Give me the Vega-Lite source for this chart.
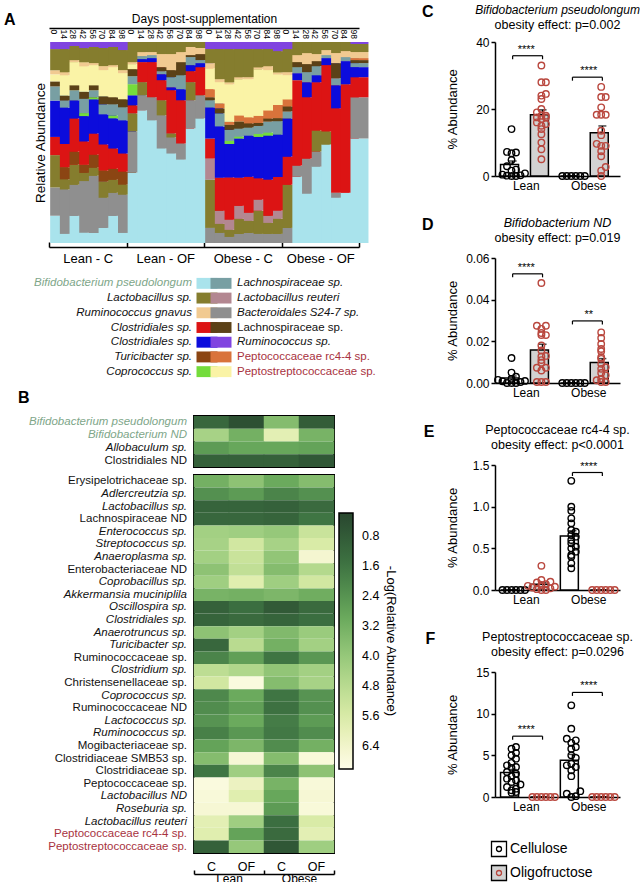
{
"$schema":"https://vega.github.io/schema/vega-lite/v6.json",
"background":"white",
"padding":{"left":3,"top":3,"right":0,"bottom":0},
"config":{
 "font":"Liberation Sans",
 "view":{"stroke":null},
 "axis":{"labelFont":"Liberation Sans","titleFont":"Liberation Sans","labelColor":"black","titleColor":"black","titleFontWeight":"normal","grid":false},
 "title":{"font":"Liberation Sans","subtitleFont":"Liberation Sans","color":"black","subtitleColor":"black"},
 "legend":{"labelFont":"Liberation Sans","titleFont":"Liberation Sans","labelColor":"black","titleColor":"black","titleFontWeight":"normal"},
 "text":{"font":"Liberation Sans","color":"black"}
},
"datasets":{
 "bars":[
  {"i":0,"s01":13.5,"s02":14,"s03":16,"s06":9,"s07":18,"s09":7,"s10":2.5,"s12":3.5,"s13":2,"s14":10.5,"s15":3.5},
  {"i":1,"s01":4.5,"s02":22,"s03":5,"s05":6,"s06":11.5,"s07":18,"s09":3.5,"s10":2.5,"s12":10,"s13":1.5,"s14":11.5,"s15":3.5},
  {"i":2,"s01":13.5,"s02":15.5,"s03":10,"s05":6.5,"s06":16.5,"s07":9,"s09":5,"s10":2.5,"s12":11.5,"s13":1,"s14":7,"s15":2},
  {"i":3,"s01":5,"s02":25.5,"s03":4,"s05":4,"s06":11.5,"s07":12.5,"s08":1.5,"s09":7,"s10":3.5,"s12":12.5,"s13":2,"s14":7,"s15":3},
  {"i":4,"s01":5,"s02":28.5,"s03":4,"s05":6.5,"s06":10.5,"s07":17,"s08":1,"s09":3.5,"s10":2.5,"s12":10,"s13":1,"s14":8,"s15":2.5},
  {"i":5,"s01":7.5,"s02":15,"s03":8,"s05":5.5,"s06":13,"s07":15,"s09":5,"s10":4,"s12":13,"s13":2,"s14":9,"s15":3},
  {"i":6,"s01":13.5,"s02":11.5,"s03":6.5,"s05":5.5,"s06":10,"s07":15,"s08":1.5,"s09":5.5,"s10":3.5,"s12":15,"s13":1,"s14":9,"s15":2.5},
  {"i":7,"s01":5,"s02":19,"s03":5,"s05":6.5,"s06":9,"s07":16.5,"s09":6.5,"s10":4,"s12":13,"s13":1.5,"s14":10,"s15":4},
  {"i":8,"s01":35,"s02":20.5,"s03":9,"s06":4,"s07":5,"s08":5.5,"s09":4,"s10":3.5,"s12":2.5,"s13":1,"s14":10},
  {"i":9,"s01":66,"s02":7.5,"s03":6.5,"s06":10,"s07":1.5,"s09":1.5,"s13":2,"s14":5},
  {"i":10,"s01":61,"s02":11.5,"s06":17.5,"s07":2,"s09":1.5,"s13":1.5,"s14":5},
  {"i":11,"s01":47,"s02":16.5,"s03":7.5,"s06":10,"s07":3,"s09":1.5,"s10":2,"s13":6.5,"s14":6},
  {"i":12,"s01":44.5,"s02":8,"s03":2,"s06":21.5,"s07":1.5,"s09":5,"s10":3.5,"s13":8,"s14":6},
  {"i":13,"s01":41.5,"s02":8,"s06":21.5,"s07":5.5,"s09":7,"s10":6.5,"s13":5,"s14":5},
  {"i":14,"s01":57,"s02":14,"s03":9,"s06":5.5,"s07":3,"s09":4,"s10":1,"s13":4,"s14":2.5},
  {"i":15,"s01":62,"s02":11.5,"s06":14,"s07":2,"s09":1.5,"s10":3,"s13":3,"s14":3},
  {"i":16,"s02":7.5,"s03":24,"s04":10.5,"s06":10,"s07":15.5,"s09":3.5,"s10":1.5,"s11":4,"s12":10.5,"s13":2.5,"s14":7,"s15":3.5},
  {"i":17,"s02":5,"s03":4.5,"s04":6.5,"s06":16.5,"s07":25.5,"s09":6.5,"s10":2.5,"s11":2.5,"s12":10.5,"s13":1.5,"s14":15,"s15":3.5},
  {"i":18,"s02":3,"s03":3.5,"s04":5,"s06":21,"s07":16.5,"s08":1.5,"s09":5.5,"s10":2.5,"s11":1.5,"s12":18.5,"s13":1,"s14":16.5,"s15":3.5},
  {"i":19,"s02":4.5,"s03":7.5,"s04":6.5,"s06":14,"s07":19.5,"s08":1,"s09":4,"s10":3.5,"s11":3,"s12":18,"s13":1,"s14":14,"s15":3.5},
  {"i":20,"s02":5,"s03":6,"s04":4,"s06":18,"s07":20.5,"s09":4,"s10":2,"s11":3,"s12":19,"s13":1,"s14":14,"s15":3.5},
  {"i":21,"s02":4.5,"s03":11.5,"s04":5.5,"s06":10.5,"s07":20.5,"s08":1.5,"s09":4,"s10":1.5,"s11":3.5,"s12":23,"s13":1,"s14":9,"s15":3.5},
  {"i":22,"s02":4.5,"s03":5.5,"s04":3.5,"s06":18,"s07":22,"s08":1.5,"s09":5.5,"s10":1.5,"s11":4,"s12":20,"s13":2,"s14":8.5,"s15":3.5},
  {"i":23,"s02":4.5,"s03":7.5,"s04":4,"s06":16.5,"s07":21,"s09":6.5,"s10":1.5,"s11":6.5,"s12":15,"s13":1,"s14":10.5,"s15":4.5},
  {"i":24,"s02":7.5,"s03":21.5,"s06":14,"s07":19,"s09":3.5,"s10":2.5,"s11":3.5,"s12":12,"s13":1.5,"s14":11.5,"s15":3.5},
  {"i":25,"s01":33,"s02":5.5,"s06":42.5,"s07":3.5,"s09":3,"s10":2.5,"s13":3.5,"s14":6.5},
  {"i":26,"s01":24.5,"s02":17.5,"s06":30.5,"s07":7.5,"s09":5,"s10":4,"s13":5.5,"s14":5.5},
  {"i":27,"s01":38,"s02":7.5,"s03":10.5,"s06":24,"s07":3.5,"s09":4.5,"s10":2.5,"s13":3.5,"s14":6},
  {"i":28,"s01":49,"s03":6.5,"s06":33,"s07":3.5,"s09":1.5,"s13":2.5,"s14":4},
  {"i":29,"s01":22.5,"s02":2.5,"s06":42,"s07":11.5,"s09":3.5,"s10":7.5,"s13":5,"s14":5.5},
  {"i":30,"s01":25,"s06":54,"s07":11.5,"s09":2,"s13":3,"s14":4.5},
  {"i":31,"s01":52,"s02":20.5,"s06":10,"s07":5,"s09":2,"s10":1.5,"s11":1,"s13":3,"s14":4,"s15":1}
 ],
 "legA":[
  {"t":"Bifidobacterium pseudolongum","c":"L","r":1,"k":"s01"},
  {"t":"Lactobacillus sp.","c":"L","r":2,"k":"s14"},
  {"t":"Ruminococcus gnavus","c":"L","r":3,"k":"s13"},
  {"t":"Clostridiales sp.","c":"L","r":4,"k":"s06"},
  {"t":"Clostridiales sp.","c":"L","r":5,"k":"s07"},
  {"t":"Turicibacter sp.","c":"L","r":6,"k":"s05"},
  {"t":"Coprococcus sp.","c":"L","r":7,"k":"s08"},
  {"t":"Lachnospiraceae sp.","c":"R","r":1,"k":"s09"},
  {"t":"Lactobacillus reuteri","c":"R","r":2,"k":"s04"},
  {"t":"Bacteroidales S24-7 sp.","c":"R","r":3,"k":"s02"},
  {"t":"Lachnospiraceae sp.","c":"R","r":4,"k":"s10"},
  {"t":"Ruminococcus sp.","c":"R","r":5,"k":"s15"},
  {"t":"Peptococcaceae rc4-4 sp.","c":"R","r":6,"k":"s11"},
  {"t":"Peptostreptococcaceae sp.","c":"R","r":7,"k":"s12"}
 ],
 "hmTop":[
  {"t":"Bifidobacterium pseudolongum","LC":1.2,"LOF":0.5,"OC":3.6,"OOF":0.9},
  {"t":"Bifidobacterium ND","LC":4.4,"LOF":3.2,"OC":5.9,"OOF":3.3},
  {"t":"Allobaculum sp.","LC":2.6,"LOF":2.9,"OC":2.9,"OOF":2.8},
  {"t":"Clostridiales ND","LC":1.0,"LOF":1.0,"OC":1.0,"OOF":0.7}
 ],
 "hmBot":[
  {"t":"Erysipelotrichaceae sp.","LC":3.2,"LOF":3.8,"OC":3.0,"OOF":3.6},
  {"t":"Adlercreutzia sp.","LC":2.3,"LOF":2.6,"OC":2.0,"OOF":2.3},
  {"t":"Lactobacillus sp.","LC":1.1,"LOF":1.1,"OC":1.0,"OOF":1.3},
  {"t":"Lachnospiraceae ND","LC":1.2,"LOF":1.2,"OC":1.1,"OOF":1.6},
  {"t":"Enterococcus sp.","LC":4.3,"LOF":4.2,"OC":4.0,"OOF":5.2},
  {"t":"Streptococcus sp.","LC":4.4,"LOF":5.4,"OC":4.4,"OOF":5.6},
  {"t":"Anaeroplasma sp.","LC":4.3,"LOF":5.2,"OC":3.9,"OOF":6.5},
  {"t":"Enterobacteriaceae ND","LC":3.8,"LOF":5.0,"OC":3.6,"OOF":4.7},
  {"t":"Coprobacillus sp.","LC":4.2,"LOF":5.8,"OC":4.2,"OOF":5.4},
  {"t":"Akkermansia muciniplila","LC":3.3,"LOF":3.2,"OC":3.4,"OOF":3.1},
  {"t":"Oscillospira sp.","LC":1.0,"LOF":1.4,"OC":0.8,"OOF":1.3},
  {"t":"Clostridiales sp.","LC":1.1,"LOF":1.3,"OC":1.1,"OOF":1.4},
  {"t":"Anaerotruncus sp.","LC":3.8,"LOF":4.3,"OC":3.5,"OOF":4.1},
  {"t":"Turicibacter sp.","LC":1.2,"LOF":4.8,"OC":3.2,"OOF":4.3},
  {"t":"Ruminococcaceae sp.","LC":2.0,"LOF":2.7,"OC":1.6,"OOF":2.5},
  {"t":"Clostridium sp.","LC":4.9,"LOF":4.6,"OC":3.9,"OOF":4.3},
  {"t":"Christensenellaceae sp.","LC":5.4,"LOF":6.8,"OC":3.6,"OOF":4.4},
  {"t":"Coprococcus sp.","LC":2.1,"LOF":3.0,"OC":1.6,"OOF":2.4},
  {"t":"Ruminococcaceae ND","LC":2.2,"LOF":2.7,"OC":1.5,"OOF":2.3},
  {"t":"Lactococcus sp.","LC":2.4,"LOF":3.0,"OC":1.8,"OOF":2.6},
  {"t":"Ruminococcus sp.","LC":1.9,"LOF":2.5,"OC":1.7,"OOF":2.2},
  {"t":"Mogibacteriaceae sp.","LC":2.8,"LOF":3.4,"OC":2.2,"OOF":3.2},
  {"t":"Clostridiaceae SMB53 sp.","LC":3.6,"LOF":6.6,"OC":3.6,"OOF":6.7},
  {"t":"Clostridiaceae sp.","LC":1.6,"LOF":4.2,"OC":2.0,"OOF":3.8},
  {"t":"Peptococcaceae sp.","LC":6.8,"LOF":6.2,"OC":3.3,"OOF":6.7},
  {"t":"Lactobacillus ND","LC":6.7,"LOF":5.8,"OC":2.9,"OOF":6.6},
  {"t":"Roseburia sp.","LC":6.6,"LOF":6.6,"OC":2.6,"OOF":6.7},
  {"t":"Lactobacillus reuteri","LC":5.9,"LOF":4.2,"OC":1.4,"OOF":5.6},
  {"t":"Peptococcaceae rc4-4 sp.","LC":5.8,"LOF":2.8,"OC":1.3,"OOF":5.9},
  {"t":"Peptostreptococcaceae sp.","LC":1.0,"LOF":4.0,"OC":0.7,"OOF":4.2}
 ],
 "pts":[
  {"p":"C","s":"LC","v":14},{"p":"C","s":"LC","v":7.2},{"p":"C","s":"LC","v":7},{"p":"C","s":"LC","v":6.8},{"p":"C","s":"LC","v":4.8},{"p":"C","s":"LC","v":2.9},{"p":"C","s":"LC","v":1.9},{"p":"C","s":"LC","v":1.6},{"p":"C","s":"LC","v":0.8},{"p":"C","s":"LC","v":0.4},{"p":"C","s":"LC","v":0.2},{"p":"C","s":"LC","v":0.1},{"p":"C","s":"LC","v":0},{"p":"C","s":"LC","v":0},
  {"p":"C","s":"LOF","v":33},{"p":"C","s":"LOF","v":28},{"p":"C","s":"LOF","v":28},{"p":"C","s":"LOF","v":24.5},{"p":"C","s":"LOF","v":24},{"p":"C","s":"LOF","v":23},{"p":"C","s":"LOF","v":20},{"p":"C","s":"LOF","v":19},{"p":"C","s":"LOF","v":18},{"p":"C","s":"LOF","v":18},{"p":"C","s":"LOF","v":17.5},{"p":"C","s":"LOF","v":17.5},{"p":"C","s":"LOF","v":17},{"p":"C","s":"LOF","v":16},{"p":"C","s":"LOF","v":15.5},{"p":"C","s":"LOF","v":15},{"p":"C","s":"LOF","v":14},{"p":"C","s":"LOF","v":12.5},{"p":"C","s":"LOF","v":10},{"p":"C","s":"LOF","v":8},{"p":"C","s":"LOF","v":5},
  {"p":"C","s":"OC","v":0},{"p":"C","s":"OC","v":0},{"p":"C","s":"OC","v":0},{"p":"C","s":"OC","v":0},{"p":"C","s":"OC","v":0},{"p":"C","s":"OC","v":0},
  {"p":"C","s":"OOF","v":26.6},{"p":"C","s":"OOF","v":23.6},{"p":"C","s":"OOF","v":23.6},{"p":"C","s":"OOF","v":20.5},{"p":"C","s":"OOF","v":18.3},{"p":"C","s":"OOF","v":18.3},{"p":"C","s":"OOF","v":18.3},{"p":"C","s":"OOF","v":13.5},{"p":"C","s":"OOF","v":12.2},{"p":"C","s":"OOF","v":9.6},{"p":"C","s":"OOF","v":9},{"p":"C","s":"OOF","v":9},{"p":"C","s":"OOF","v":7.4},{"p":"C","s":"OOF","v":5.9},{"p":"C","s":"OOF","v":2.7},{"p":"C","s":"OOF","v":1.6},{"p":"C","s":"OOF","v":0},
  {"p":"D","s":"LC","v":0.012},{"p":"D","s":"LC","v":0.005},{"p":"D","s":"LC","v":0.003},{"p":"D","s":"LC","v":0.002},{"p":"D","s":"LC","v":0.0015},{"p":"D","s":"LC","v":0.001},{"p":"D","s":"LC","v":0.0008},{"p":"D","s":"LC","v":0.0005},{"p":"D","s":"LC","v":0},{"p":"D","s":"LC","v":0},{"p":"D","s":"LC","v":0},
  {"p":"D","s":"LOF","v":0.048},{"p":"D","s":"LOF","v":0.0275},{"p":"D","s":"LOF","v":0.0275},{"p":"D","s":"LOF","v":0.026},{"p":"D","s":"LOF","v":0.024},{"p":"D","s":"LOF","v":0.023},{"p":"D","s":"LOF","v":0.023},{"p":"D","s":"LOF","v":0.018},{"p":"D","s":"LOF","v":0.0156},{"p":"D","s":"LOF","v":0.0127},{"p":"D","s":"LOF","v":0.013},{"p":"D","s":"LOF","v":0.011},{"p":"D","s":"LOF","v":0.0097},{"p":"D","s":"LOF","v":0.0073},{"p":"D","s":"LOF","v":0.0073},{"p":"D","s":"LOF","v":0.006},{"p":"D","s":"LOF","v":0.0005},{"p":"D","s":"LOF","v":0.0005},{"p":"D","s":"LOF","v":0.0005},
  {"p":"D","s":"OC","v":0},{"p":"D","s":"OC","v":0},{"p":"D","s":"OC","v":0},{"p":"D","s":"OC","v":0},{"p":"D","s":"OC","v":0},{"p":"D","s":"OC","v":0},
  {"p":"D","s":"OOF","v":0.0243},{"p":"D","s":"OOF","v":0.0216},{"p":"D","s":"OOF","v":0.0187},{"p":"D","s":"OOF","v":0.0163},{"p":"D","s":"OOF","v":0.0152},{"p":"D","s":"OOF","v":0.0124},{"p":"D","s":"OOF","v":0.0116},{"p":"D","s":"OOF","v":0.0092},{"p":"D","s":"OOF","v":0.0076},{"p":"D","s":"OOF","v":0.0068},{"p":"D","s":"OOF","v":0.0048},{"p":"D","s":"OOF","v":0.0037},{"p":"D","s":"OOF","v":0.002},{"p":"D","s":"OOF","v":0.0013},{"p":"D","s":"OOF","v":0.0005},{"p":"D","s":"OOF","v":0.0005},
  {"p":"E","s":"LC","v":0},{"p":"E","s":"LC","v":0},{"p":"E","s":"LC","v":0},{"p":"E","s":"LC","v":0},{"p":"E","s":"LC","v":0},{"p":"E","s":"LC","v":0},
  {"p":"E","s":"LOF","v":0.29},{"p":"E","s":"LOF","v":0.12},{"p":"E","s":"LOF","v":0.1},{"p":"E","s":"LOF","v":0.09},{"p":"E","s":"LOF","v":0.07},{"p":"E","s":"LOF","v":0.06},{"p":"E","s":"LOF","v":0.05},{"p":"E","s":"LOF","v":0.04},{"p":"E","s":"LOF","v":0.03},{"p":"E","s":"LOF","v":0.02},{"p":"E","s":"LOF","v":0.01},{"p":"E","s":"LOF","v":0},{"p":"E","s":"LOF","v":0},
  {"p":"E","s":"OC","v":1.31},{"p":"E","s":"OC","v":1.0},{"p":"E","s":"OC","v":0.95},{"p":"E","s":"OC","v":0.86},{"p":"E","s":"OC","v":0.8},{"p":"E","s":"OC","v":0.72},{"p":"E","s":"OC","v":0.7},{"p":"E","s":"OC","v":0.66},{"p":"E","s":"OC","v":0.64},{"p":"E","s":"OC","v":0.6},{"p":"E","s":"OC","v":0.56},{"p":"E","s":"OC","v":0.52},{"p":"E","s":"OC","v":0.5},{"p":"E","s":"OC","v":0.46},{"p":"E","s":"OC","v":0.42},{"p":"E","s":"OC","v":0.4},{"p":"E","s":"OC","v":0.32},{"p":"E","s":"OC","v":0.26},
  {"p":"E","s":"OOF","v":0},{"p":"E","s":"OOF","v":0},{"p":"E","s":"OOF","v":0},{"p":"E","s":"OOF","v":0},{"p":"E","s":"OOF","v":0},{"p":"E","s":"OOF","v":0},
  {"p":"F","s":"LC","v":6},{"p":"F","s":"LC","v":5.8},{"p":"F","s":"LC","v":5.3},{"p":"F","s":"LC","v":5},{"p":"F","s":"LC","v":4.6},{"p":"F","s":"LC","v":4.1},{"p":"F","s":"LC","v":3.8},{"p":"F","s":"LC","v":3.6},{"p":"F","s":"LC","v":3.5},{"p":"F","s":"LC","v":3},{"p":"F","s":"LC","v":2.8},{"p":"F","s":"LC","v":2.5},{"p":"F","s":"LC","v":2.2},{"p":"F","s":"LC","v":2},{"p":"F","s":"LC","v":1.8},{"p":"F","s":"LC","v":1.5},{"p":"F","s":"LC","v":1.2},{"p":"F","s":"LC","v":1},{"p":"F","s":"LC","v":0.8},{"p":"F","s":"LC","v":0.6},{"p":"F","s":"LC","v":0.5},
  {"p":"F","s":"LOF","v":0},{"p":"F","s":"LOF","v":0},{"p":"F","s":"LOF","v":0},{"p":"F","s":"LOF","v":0},{"p":"F","s":"LOF","v":0},{"p":"F","s":"LOF","v":0},
  {"p":"F","s":"OC","v":11},{"p":"F","s":"OC","v":8.2},{"p":"F","s":"OC","v":7},{"p":"F","s":"OC","v":6.8},{"p":"F","s":"OC","v":6.5},{"p":"F","s":"OC","v":6},{"p":"F","s":"OC","v":5.8},{"p":"F","s":"OC","v":5},{"p":"F","s":"OC","v":4.7},{"p":"F","s":"OC","v":4},{"p":"F","s":"OC","v":3.8},{"p":"F","s":"OC","v":3.6},{"p":"F","s":"OC","v":3.2},{"p":"F","s":"OC","v":2.5},{"p":"F","s":"OC","v":0.7},{"p":"F","s":"OC","v":0.4},{"p":"F","s":"OC","v":0.1},{"p":"F","s":"OC","v":0},
  {"p":"F","s":"OOF","v":0},{"p":"F","s":"OOF","v":0},{"p":"F","s":"OOF","v":0},{"p":"F","s":"OOF","v":0},{"p":"F","s":"OOF","v":0},{"p":"F","s":"OOF","v":0}
 ],
 "sig":[
  {"p":"C","g":"Lean","s1":"LC","s2":"LOF","y":35.9,"lab":"****"},
  {"p":"C","g":"Obese","s1":"OC","s2":"OOF","y":29.5,"lab":"****"},
  {"p":"D","g":"Lean","s1":"LC","s2":"LOF","y":0.0524,"lab":"****"},
  {"p":"D","g":"Obese","s1":"OC","s2":"OOF","y":0.0298,"lab":"**"},
  {"p":"E","g":"Obese","s1":"OC","s2":"OOF","y":1.41,"lab":"****"},
  {"p":"F","g":"Lean","s1":"LC","s2":"LOF","y":7.3,"lab":"****"},
  {"p":"F","g":"Obese","s1":"OC","s2":"OOF","y":12.55,"lab":"****"}
 ]
},
"hconcat":[
 {"vconcat":[
  {"width":310,"height":201,
   "title":{"text":"A","orient":"left","angle":0,"anchor":"end","frame":"bounds","baseline":"top","align":"right","fontSize":16,"fontWeight":"bold","offset":6},
   "layer":[
    {"data":{"name":"bars"},
     "transform":[{"fold":["s01","s02","s03","s04","s05","s06","s07","s08","s09","s10","s11","s12","s13","s14","s15"],"as":["k","v"]},{"filter":"datum.v > 0"}],
     "mark":{"type":"bar"},
     "encoding":{
      "x":{"field":"i","type":"ordinal","scale":{"type":"band","paddingInner":0.24,"paddingOuter":0.12},
           "axis":{"orient":"top","title":"Days post-supplementation","titleFontSize":12,"titlePadding":3,"labelExpr":"['0','14','28','42','56','70','84','98'][datum.value % 8]","labelAngle":90,"labelAlign":"left","labelBaseline":"middle","labelFontSize":8.5,"labelPadding":-1,"ticks":false,"domain":true,"domainColor":"black","domainWidth":1.5,"offset":14}},
      "y":{"field":"v","type":"quantitative","stack":"normalize","axis":{"title":"Relative Abundance","labels":false,"ticks":false,"domain":false,"titleFontSize":13.5,"titlePadding":2,"minExtent":0}},
      "color":{"field":"k","type":"nominal","legend":null,"scale":{"domain":["s01","s02","s03","s04","s05","s06","s07","s08","s09","s10","s11","s12","s13","s14","s15"],"range":["#a9e3ec","#8f8f8f","#857d2e","#b38791","#8b4513","#dc1414","#0c0cdc","#74dc3c","#789fa3","#5b4117","#d9733b","#faf3a6","#f1ca91","#857d2e","#8044e0"]}},
      "order":{"field":"k","sort":"ascending"}
     }},
    {"data":{"values":[{"g":"Lean - C"},{"g":"Lean - OF"},{"g":"Obese - C"},{"g":"Obese - OF"}]},
     "mark":{"type":"text","text":""},
     "encoding":{"x":{"field":"g","type":"nominal","sort":null,"scale":{"type":"band","paddingInner":0,"paddingOuter":0},
       "axis":{"orient":"bottom","title":null,"labelAngle":0,"labelFontSize":13,"domainColor":"black","domainWidth":1.5,"tickColor":"black","tickWidth":1.5,"tickSize":-5,"tickBand":"extent","labelPadding":10,"offset":4}}}}
   ],
   "resolve":{"scale":{"x":"independent"},"axis":{"x":"independent"}}
  },
  {"width":340,"height":103,
   "data":{"name":"legA"},
   "encoding":{
    "x":{"field":"c","type":"nominal","scale":{"type":"point","domain":["L","R"],"range":[151,179]},"axis":null},
    "y":{"field":"r","type":"ordinal","scale":{"type":"point","padding":0.5},"axis":null}
   },
   "layer":[
    {"mark":{"type":"point","shape":"M-1,-0.52H1V0.52H-1Z","size":441,"filled":true,"opacity":1,"strokeWidth":0},
     "encoding":{"color":{"field":"k","type":"nominal","legend":null,"scale":{"domain":["s01","s02","s03","s04","s05","s06","s07","s08","s09","s10","s11","s12","s13","s14","s15"],"range":["#a9e3ec","#8f8f8f","#857d2e","#b38791","#8b4513","#dc1414","#0c0cdc","#74dc3c","#789fa3","#5b4117","#d9733b","#faf3a6","#f1ca91","#857d2e","#8044e0"]}}}},
    {"transform":[{"filter":"datum.c == 'L'"}],
     "mark":{"type":"text","align":"right","dx":-15,"fontSize":11.5,"fontStyle":"italic"},
     "encoding":{"text":{"field":"t"},"color":{"condition":{"test":"datum.k == 's01'","value":"#7ea689"},"value":"#111111"}}},
    {"transform":[{"filter":"datum.c == 'R' && indexof(['s10','s11','s12'], datum.k) < 0"}],
     "mark":{"type":"text","align":"left","dx":16,"fontSize":11.5,"fontStyle":"italic","color":"#111111"},
     "encoding":{"text":{"field":"t"}}},
    {"transform":[{"filter":"indexof(['s10','s11','s12'], datum.k) >= 0"}],
     "mark":{"type":"text","align":"left","dx":16,"fontSize":11.5},
     "encoding":{"text":{"field":"t"},"color":{"condition":{"test":"datum.k != 's10'","value":"#a8323e"},"value":"#111111"}}}
   ]
  },
  {"title":{"text":"B","anchor":"start","frame":"bounds","fontSize":16,"fontWeight":"bold","dx":-11,"offset":9},
   "concat":[
    {"width":138,"height":51,"data":{"name":"hmTop"},
     "encoding":{"y":{"field":"t","type":"nominal","axis":null,"scale":{"type":"band","paddingInner":0,"paddingOuter":0,"domain":["Bifidobacterium pseudolongum","Bifidobacterium ND","Allobaculum sp.","Clostridiales ND"]}},"x":{"value":"width"}},
     "layer":[
      {"transform":[{"filter":"datum.t != 'Clostridiales ND'"}],"mark":{"type":"text","align":"right","baseline":"middle","fontSize":11.5,"fontStyle":"italic"},
       "encoding":{"text":{"field":"t"},"color":{"condition":{"test":"indexof(['Bifidobacterium pseudolongum','Bifidobacterium ND'], datum.t) >= 0","value":"#7ea689"},"value":"#111111"}}},
      {"transform":[{"filter":"datum.t == 'Clostridiales ND'"}],"mark":{"type":"text","align":"right","baseline":"middle","fontSize":11.5,"color":"#111111"},
       "encoding":{"text":{"field":"t"}}}
     ]},
    {"width":140,"height":51,"view":{"stroke":"black","strokeWidth":2},
     "data":{"name":"hmTop"},
     "transform":[{"fold":["LC","LOF","OC","OOF"],"as":["c","v"]}],
     "mark":{"type":"rect","width":35.5,"height":{"band":1}},
     "encoding":{
      "x":{"field":"c","type":"nominal","sort":null,"axis":null,"scale":{"type":"band","paddingInner":0,"paddingOuter":0}},
      "y":{"field":"t","type":"nominal","sort":null,"axis":null,"scale":{"type":"band","paddingInner":0,"paddingOuter":0}},
      "color":{"field":"v","type":"quantitative","legend":null,"scale":{"type":"linear","domain":[7.0,5.64,4.28,2.92,1.56,0.2],"range":["#fefde8","#dbeca8","#a2d083","#68a85b","#3e7342","#29472e"]}}
     }},
    {"width":138,"height":378,"data":{"name":"hmBot"},
     "encoding":{"y":{"field":"t","type":"nominal","axis":null,"scale":{"type":"band","paddingInner":0,"paddingOuter":0,"domain":["Erysipelotrichaceae sp.","Adlercreutzia sp.","Lactobacillus sp.","Lachnospiraceae ND","Enterococcus sp.","Streptococcus sp.","Anaeroplasma sp.","Enterobacteriaceae ND","Coprobacillus sp.","Akkermansia muciniplila","Oscillospira sp.","Clostridiales sp.","Anaerotruncus sp.","Turicibacter sp.","Ruminococcaceae sp.","Clostridium sp.","Christensenellaceae sp.","Coprococcus sp.","Ruminococcaceae ND","Lactococcus sp.","Ruminococcus sp.","Mogibacteriaceae sp.","Clostridiaceae SMB53 sp.","Clostridiaceae sp.","Peptococcaceae sp.","Lactobacillus ND","Roseburia sp.","Lactobacillus reuteri","Peptococcaceae rc4-4 sp.","Peptostreptococcaceae sp."]}},"x":{"value":"width"}},
     "layer":[
      {"transform":[{"filter":"indexof(['Erysipelotrichaceae sp.','Lachnospiraceae ND','Enterobacteriaceae ND','Ruminococcaceae sp.','Christensenellaceae sp.','Ruminococcaceae ND','Mogibacteriaceae sp.','Clostridiaceae SMB53 sp.','Clostridiaceae sp.','Peptococcaceae sp.','Peptococcaceae rc4-4 sp.','Peptostreptococcaceae sp.'], datum.t) < 0"}],
       "mark":{"type":"text","align":"right","baseline":"middle","fontSize":11.5,"fontStyle":"italic","color":"#111111"},
       "encoding":{"text":{"field":"t"}}},
      {"transform":[{"filter":"indexof(['Erysipelotrichaceae sp.','Lachnospiraceae ND','Enterobacteriaceae ND','Ruminococcaceae sp.','Christensenellaceae sp.','Ruminococcaceae ND','Mogibacteriaceae sp.','Clostridiaceae SMB53 sp.','Clostridiaceae sp.','Peptococcaceae sp.','Peptococcaceae rc4-4 sp.','Peptostreptococcaceae sp.'], datum.t) >= 0"}],
       "mark":{"type":"text","align":"right","baseline":"middle","fontSize":11.5},
       "encoding":{"text":{"field":"t"},"color":{"condition":{"test":"indexof(['Peptococcaceae rc4-4 sp.','Peptostreptococcaceae sp.'], datum.t) >= 0","value":"#a8323e"},"value":"#111111"}}}
     ]},
    {"width":140,"height":378,"view":{"stroke":"black","strokeWidth":2},
     "layer":[
      {"data":{"name":"hmBot"},
       "transform":[{"fold":["LC","LOF","OC","OOF"],"as":["c","v"]}],
       "mark":{"type":"rect","width":35.5,"height":{"band":1}},
       "encoding":{
        "x":{"field":"c","type":"nominal","sort":null,"scale":{"type":"band","paddingInner":0,"paddingOuter":0},"axis":{"orient":"bottom","title":null,"labelExpr":"datum.value == 'LC' || datum.value == 'OC' ? 'C' : 'OF'","labelAngle":0,"ticks":false,"domain":false,"labelFontSize":12.5,"labelPadding":7}},
        "y":{"field":"t","type":"nominal","sort":null,"axis":null,"scale":{"type":"band","paddingInner":0,"paddingOuter":0}},
        "color":{"field":"v","type":"quantitative","scale":{"type":"linear","domain":[7.0,5.64,4.28,2.92,1.56,0.2],"range":["#fefde8","#dbeca8","#a2d083","#68a85b","#3e7342","#29472e"]},
          "legend":{"orient":"none","legendX":145,"legendY":38,"direction":"vertical","gradientLength":256,"gradientThickness":14,"gradientStrokeColor":"black","gradientStrokeWidth":1.5,"values":[0.8,1.6,2.4,3.2,4,4.8,5.6,6.4],"format":".1f","labelFontSize":12.5,"labelOffset":9,"title":"-Log(Relative Abundance)","titleOrient":"right","titleAnchor":"middle","titleFontSize":13,"titlePadding":5}}
       }},
      {"data":{"values":[{"g":"Lean"},{"g":"Obese"}]},
       "mark":{"type":"text","text":""},
       "encoding":{"x":{"field":"g","type":"nominal","scale":{"type":"band","paddingInner":0,"paddingOuter":0},
         "axis":{"orient":"bottom","title":null,"labelAngle":0,"labelFontSize":12,"domainColor":"black","domainWidth":1.5,"tickColor":"black","tickWidth":1.5,"tickSize":-4,"tickBand":"extent","labelPadding":3,"offset":21}}}}
     ],
     "resolve":{"scale":{"x":"independent"},"axis":{"x":"independent"}}
    }
   ],
   "columns":2,
   "spacing":{"row":6,"column":5},
   "resolve":{"scale":{"color":"independent","x":"independent","y":"independent"}}
  }
 ],
 "spacing":11,
 "resolve":{"scale":{"color":"independent"}}
 },
 {"vconcat":[
  {"title":{"text":"C","orient":"left","angle":0,"anchor":"end","frame":"bounds","baseline":"top","align":"right","fontSize":16,"fontWeight":"bold","offset":1},
   "vconcat":[{"width":125,"height":134,
    "title":{"text":"Bifidobacterium pseudolongum","subtitle":"obesity effect: p=0.002","fontStyle":"italic","subtitleFontStyle":"normal","fontWeight":"normal","fontSize":12,"subtitleFontSize":12.5,"subtitlePadding":2,"offset":4,"anchor":"middle"},
    "layer":[
     {"layer":[
      {"data":{"name":"pts"},"transform":[{"filter":"datum.p == 'C'"}],
       "mark":{"type":"errorbar","extent":"stderr","color":"black","thickness":1.5,"ticks":{"size":8}},
       "encoding":{"x":{"field":"s","type":"nominal","scale":{"type":"band","paddingInner":0.12,"paddingOuter":0.15},"axis":null},
        "y":{"field":"v","type":"quantitative","scale":{"domain":[0,40],"nice":false},"axis":{"title":"% Abundance","values":[0,10,20,30,40],"titleFontSize":13,"labelFontSize":12,"tickSize":4,"tickWidth":1.5,"tickColor":"black","domainColor":"black","domainWidth":1.5,"minExtent":32,"titlePadding":4,"labelPadding":2}}}},
      {"data":{"name":"pts"},"transform":[{"filter":"datum.p == 'C'"}],
       "mark":{"type":"bar","stroke":"black","strokeWidth":1.5,"width":{"band":0.92}},
       "encoding":{"x":{"field":"s","type":"nominal","axis":null},"y":{"aggregate":"mean","field":"v","type":"quantitative"},
        "fill":{"condition":{"test":"datum.s == 'LOF' || datum.s == 'OOF'","value":"#d2d2d2"},"value":"white"}}},
      {"data":{"name":"pts"},"transform":[{"filter":"datum.p == 'C'"},{"bin":{"step":1.5},"field":"v","as":"vb"},{"window":[{"op":"row_number","as":"rk"}],"groupby":["s","vb"],"sort":[{"field":"v"}]}],
       "mark":{"type":"point","filled":false,"size":42,"strokeWidth":1.4,"opacity":1},
       "encoding":{"x":{"field":"s","type":"nominal","axis":null},"xOffset":{"field":"rk","type":"nominal","scale":{"type":"point","domain":[7,5,3,1,2,4,6],"range":[-1.5,25.5],"padding":0}},
        "y":{"field":"v","type":"quantitative"},
        "stroke":{"condition":{"test":"datum.s == 'LOF' || datum.s == 'OOF'","value":"#b9473e"},"value":"black"}}},
      {"data":{"name":"sig"},"transform":[{"filter":"datum.p == 'C'"}],"mark":{"type":"rule","color":"black","strokeWidth":1.2},
       "encoding":{"x":{"field":"s1","type":"nominal","axis":null},"x2":{"field":"s2"},"y":{"field":"y","type":"quantitative"}}},
      {"data":{"name":"sig"},"transform":[{"filter":"datum.p == 'C'"}],"mark":{"type":"point","shape":"M0,0L0,1","size":49,"filled":false,"color":"black","strokeWidth":1.2,"opacity":1},
       "encoding":{"x":{"field":"s1","type":"nominal","axis":null},"y":{"field":"y","type":"quantitative"}}},
      {"data":{"name":"sig"},"transform":[{"filter":"datum.p == 'C'"}],"mark":{"type":"point","shape":"M0,0L0,1","size":49,"filled":false,"color":"black","strokeWidth":1.2,"opacity":1},
       "encoding":{"x":{"field":"s2","type":"nominal","axis":null},"y":{"field":"y","type":"quantitative"}}}
     ]},
     {"layer":[
      {"data":{"values":[{"g":"Lean"},{"g":"Obese"}]},"mark":{"type":"text","text":""},
       "encoding":{"x":{"field":"g","type":"nominal","scale":{"type":"band","paddingInner":0,"paddingOuter":0},"axis":{"orient":"bottom","title":null,"labelAngle":0,"labelFontSize":12,"ticks":false,"domainColor":"black","domainWidth":1.5,"labelPadding":4}}}},
      {"data":{"name":"sig"},"transform":[{"filter":"datum.p == 'C'"}],"mark":{"type":"text","fontSize":11,"dy":-1,"baseline":"bottom"},
       "encoding":{"x":{"field":"g","type":"nominal"},"y":{"field":"y","type":"quantitative"},"text":{"field":"lab"}}}
     ]}
    ],
    "resolve":{"scale":{"x":"independent"},"axis":{"x":"independent"}}
   }]
  },
  {"title":{"text":"D","orient":"left","angle":0,"anchor":"end","frame":"bounds","baseline":"top","align":"right","fontSize":16,"fontWeight":"bold","offset":1},
   "vconcat":[{"width":125,"height":125,
    "title":{"text":"Bifidobacterium ND","subtitle":"obesity effect: p=0.019","fontStyle":"italic","subtitleFontStyle":"normal","fontWeight":"normal","fontSize":12.5,"subtitleFontSize":12.5,"subtitlePadding":2,"offset":8,"anchor":"middle"},
    "layer":[
     {"layer":[
      {"data":{"name":"pts"},"transform":[{"filter":"datum.p == 'D'"}],
       "mark":{"type":"errorbar","extent":"stderr","color":"black","thickness":1.5,"ticks":{"size":8}},
       "encoding":{"x":{"field":"s","type":"nominal","scale":{"type":"band","paddingInner":0.12,"paddingOuter":0.15},"axis":null},
        "y":{"field":"v","type":"quantitative","scale":{"domain":[0,0.06],"nice":false},"axis":{"title":"% Abundance","values":[0,0.02,0.04,0.06],"format":".2f","titleFontSize":13,"labelFontSize":12,"tickSize":4,"tickWidth":1.5,"tickColor":"black","domainColor":"black","domainWidth":1.5,"minExtent":32,"titlePadding":4,"labelPadding":2}}}},
      {"data":{"name":"pts"},"transform":[{"filter":"datum.p == 'D'"}],
       "mark":{"type":"bar","stroke":"black","strokeWidth":1.5,"width":{"band":0.92}},
       "encoding":{"x":{"field":"s","type":"nominal","axis":null},"y":{"aggregate":"mean","field":"v","type":"quantitative"},
        "fill":{"condition":{"test":"datum.s == 'LOF' || datum.s == 'OOF'","value":"#d2d2d2"},"value":"white"}}},
      {"data":{"name":"pts"},"transform":[{"filter":"datum.p == 'D'"},{"bin":{"step":0.002},"field":"v","as":"vb"},{"window":[{"op":"row_number","as":"rk"}],"groupby":["s","vb"],"sort":[{"field":"v"}]}],
       "mark":{"type":"point","filled":false,"size":42,"strokeWidth":1.4,"opacity":1},
       "encoding":{"x":{"field":"s","type":"nominal","axis":null},"xOffset":{"field":"rk","type":"nominal","scale":{"type":"point","domain":[7,5,3,1,2,4,6],"range":[-1.5,25.5],"padding":0}},
        "y":{"field":"v","type":"quantitative"},
        "stroke":{"condition":{"test":"datum.s == 'LOF' || datum.s == 'OOF'","value":"#b9473e"},"value":"black"}}},
      {"data":{"name":"sig"},"transform":[{"filter":"datum.p == 'D'"}],"mark":{"type":"rule","color":"black","strokeWidth":1.2},
       "encoding":{"x":{"field":"s1","type":"nominal","axis":null},"x2":{"field":"s2"},"y":{"field":"y","type":"quantitative"}}},
      {"data":{"name":"sig"},"transform":[{"filter":"datum.p == 'D'"}],"mark":{"type":"point","shape":"M0,0L0,1","size":49,"filled":false,"color":"black","strokeWidth":1.2,"opacity":1},
       "encoding":{"x":{"field":"s1","type":"nominal","axis":null},"y":{"field":"y","type":"quantitative"}}},
      {"data":{"name":"sig"},"transform":[{"filter":"datum.p == 'D'"}],"mark":{"type":"point","shape":"M0,0L0,1","size":49,"filled":false,"color":"black","strokeWidth":1.2,"opacity":1},
       "encoding":{"x":{"field":"s2","type":"nominal","axis":null},"y":{"field":"y","type":"quantitative"}}}
     ]},
     {"layer":[
      {"data":{"values":[{"g":"Lean"},{"g":"Obese"}]},"mark":{"type":"text","text":""},
       "encoding":{"x":{"field":"g","type":"nominal","scale":{"type":"band","paddingInner":0,"paddingOuter":0},"axis":{"orient":"bottom","title":null,"labelAngle":0,"labelFontSize":12,"ticks":false,"domainColor":"black","domainWidth":1.5,"labelPadding":4}}}},
      {"data":{"name":"sig"},"transform":[{"filter":"datum.p == 'D'"}],"mark":{"type":"text","fontSize":11,"dy":-1,"baseline":"bottom"},
       "encoding":{"x":{"field":"g","type":"nominal"},"y":{"field":"y","type":"quantitative"},"text":{"field":"lab"}}}
     ]}
    ],
    "resolve":{"scale":{"x":"independent"},"axis":{"x":"independent"}}
   }]
  },
  {"title":{"text":"E","orient":"left","angle":0,"anchor":"end","frame":"bounds","baseline":"top","align":"right","fontSize":16,"fontWeight":"bold","offset":1},
   "vconcat":[{"width":125,"height":125,
    "title":{"text":"Peptococcaceae rc4-4 sp.","subtitle":"obesity effect: p<0.0001","fontStyle":"normal","subtitleFontStyle":"normal","fontWeight":"normal","fontSize":12.5,"subtitleFontSize":12.5,"subtitlePadding":2,"offset":8,"anchor":"middle"},
    "layer":[
     {"layer":[
      {"data":{"name":"pts"},"transform":[{"filter":"datum.p == 'E'"}],
       "mark":{"type":"errorbar","extent":"stderr","color":"black","thickness":1.5,"ticks":{"size":8}},
       "encoding":{"x":{"field":"s","type":"nominal","scale":{"type":"band","paddingInner":0.12,"paddingOuter":0.15},"axis":null},
        "y":{"field":"v","type":"quantitative","scale":{"domain":[0,1.5],"nice":false},"axis":{"title":"% Abundance","values":[0,0.5,1,1.5],"format":".1f","titleFontSize":13,"labelFontSize":12,"tickSize":4,"tickWidth":1.5,"tickColor":"black","domainColor":"black","domainWidth":1.5,"minExtent":32,"titlePadding":4,"labelPadding":2}}}},
      {"data":{"name":"pts"},"transform":[{"filter":"datum.p == 'E'"}],
       "mark":{"type":"bar","stroke":"black","strokeWidth":1.5,"width":{"band":0.92}},
       "encoding":{"x":{"field":"s","type":"nominal","axis":null},"y":{"aggregate":"mean","field":"v","type":"quantitative"},
        "fill":{"condition":{"test":"datum.s == 'LOF' || datum.s == 'OOF'","value":"#d2d2d2"},"value":"white"}}},
      {"data":{"name":"pts"},"transform":[{"filter":"datum.p == 'E'"},{"bin":{"step":0.06},"field":"v","as":"vb"},{"window":[{"op":"row_number","as":"rk"}],"groupby":["s","vb"],"sort":[{"field":"v"}]}],
       "mark":{"type":"point","filled":false,"size":42,"strokeWidth":1.4,"opacity":1},
       "encoding":{"x":{"field":"s","type":"nominal","axis":null},"xOffset":{"field":"rk","type":"nominal","scale":{"type":"point","domain":[7,5,3,1,2,4,6],"range":[-1.5,25.5],"padding":0}},
        "y":{"field":"v","type":"quantitative"},
        "stroke":{"condition":{"test":"datum.s == 'LOF' || datum.s == 'OOF'","value":"#b9473e"},"value":"black"}}},
      {"data":{"name":"sig"},"transform":[{"filter":"datum.p == 'E'"}],"mark":{"type":"rule","color":"black","strokeWidth":1.2},
       "encoding":{"x":{"field":"s1","type":"nominal","axis":null},"x2":{"field":"s2"},"y":{"field":"y","type":"quantitative"}}},
      {"data":{"name":"sig"},"transform":[{"filter":"datum.p == 'E'"}],"mark":{"type":"point","shape":"M0,0L0,1","size":49,"filled":false,"color":"black","strokeWidth":1.2,"opacity":1},
       "encoding":{"x":{"field":"s1","type":"nominal","axis":null},"y":{"field":"y","type":"quantitative"}}},
      {"data":{"name":"sig"},"transform":[{"filter":"datum.p == 'E'"}],"mark":{"type":"point","shape":"M0,0L0,1","size":49,"filled":false,"color":"black","strokeWidth":1.2,"opacity":1},
       "encoding":{"x":{"field":"s2","type":"nominal","axis":null},"y":{"field":"y","type":"quantitative"}}}
     ]},
     {"layer":[
      {"data":{"values":[{"g":"Lean"},{"g":"Obese"}]},"mark":{"type":"text","text":""},
       "encoding":{"x":{"field":"g","type":"nominal","scale":{"type":"band","paddingInner":0,"paddingOuter":0},"axis":{"orient":"bottom","title":null,"labelAngle":0,"labelFontSize":12,"ticks":false,"domainColor":"black","domainWidth":1.5,"labelPadding":4}}}},
      {"data":{"name":"sig"},"transform":[{"filter":"datum.p == 'E'"}],"mark":{"type":"text","fontSize":11,"dy":-1,"baseline":"bottom"},
       "encoding":{"x":{"field":"g","type":"nominal","scale":{"domain":["Lean","Obese"]}},"y":{"field":"y","type":"quantitative"},"text":{"field":"lab"}}}
     ]}
    ],
    "resolve":{"scale":{"x":"independent"},"axis":{"x":"independent"}}
   }]
  },
  {"title":{"text":"F","orient":"left","angle":0,"anchor":"end","frame":"bounds","baseline":"top","align":"right","fontSize":16,"fontWeight":"bold","offset":1},
   "vconcat":[{"width":125,"height":125,
    "title":{"text":"Peptostreptococcaceae sp.","subtitle":"obesity effect: p=0.0296","fontStyle":"normal","subtitleFontStyle":"normal","fontWeight":"normal","fontSize":12.5,"subtitleFontSize":12.5,"subtitlePadding":2,"offset":8,"anchor":"middle"},
    "layer":[
     {"layer":[
      {"data":{"name":"pts"},"transform":[{"filter":"datum.p == 'F'"}],
       "mark":{"type":"errorbar","extent":"stderr","color":"black","thickness":1.5,"ticks":{"size":8}},
       "encoding":{"x":{"field":"s","type":"nominal","scale":{"type":"band","paddingInner":0.12,"paddingOuter":0.15},"axis":null},
        "y":{"field":"v","type":"quantitative","scale":{"domain":[0,15],"nice":false},"axis":{"title":"% Abundance","values":[0,5,10,15],"titleFontSize":13,"labelFontSize":12,"tickSize":4,"tickWidth":1.5,"tickColor":"black","domainColor":"black","domainWidth":1.5,"minExtent":32,"titlePadding":4,"labelPadding":2}}}},
      {"data":{"name":"pts"},"transform":[{"filter":"datum.p == 'F'"}],
       "mark":{"type":"bar","stroke":"black","strokeWidth":1.5,"width":{"band":0.92}},
       "encoding":{"x":{"field":"s","type":"nominal","axis":null},"y":{"aggregate":"mean","field":"v","type":"quantitative"},
        "fill":{"condition":{"test":"datum.s == 'LOF' || datum.s == 'OOF'","value":"#d2d2d2"},"value":"white"}}},
      {"data":{"name":"pts"},"transform":[{"filter":"datum.p == 'F'"},{"bin":{"step":0.8},"field":"v","as":"vb"},{"window":[{"op":"row_number","as":"rk"}],"groupby":["s","vb"],"sort":[{"field":"v"}]}],
       "mark":{"type":"point","filled":false,"size":42,"strokeWidth":1.4,"opacity":1},
       "encoding":{"x":{"field":"s","type":"nominal","axis":null},"xOffset":{"field":"rk","type":"nominal","scale":{"type":"point","domain":[7,5,3,1,2,4,6],"range":[-1.5,25.5],"padding":0}},
        "y":{"field":"v","type":"quantitative"},
        "stroke":{"condition":{"test":"datum.s == 'LOF' || datum.s == 'OOF'","value":"#b9473e"},"value":"black"}}},
      {"data":{"name":"sig"},"transform":[{"filter":"datum.p == 'F'"}],"mark":{"type":"rule","color":"black","strokeWidth":1.2},
       "encoding":{"x":{"field":"s1","type":"nominal","axis":null},"x2":{"field":"s2"},"y":{"field":"y","type":"quantitative"}}},
      {"data":{"name":"sig"},"transform":[{"filter":"datum.p == 'F'"}],"mark":{"type":"point","shape":"M0,0L0,1","size":49,"filled":false,"color":"black","strokeWidth":1.2,"opacity":1},
       "encoding":{"x":{"field":"s1","type":"nominal","axis":null},"y":{"field":"y","type":"quantitative"}}},
      {"data":{"name":"sig"},"transform":[{"filter":"datum.p == 'F'"}],"mark":{"type":"point","shape":"M0,0L0,1","size":49,"filled":false,"color":"black","strokeWidth":1.2,"opacity":1},
       "encoding":{"x":{"field":"s2","type":"nominal","axis":null},"y":{"field":"y","type":"quantitative"}}}
     ]},
     {"layer":[
      {"data":{"values":[{"g":"Lean"},{"g":"Obese"}]},"mark":{"type":"text","text":""},
       "encoding":{"x":{"field":"g","type":"nominal","scale":{"type":"band","paddingInner":0,"paddingOuter":0},"axis":{"orient":"bottom","title":null,"labelAngle":0,"labelFontSize":12,"ticks":false,"domainColor":"black","domainWidth":1.5,"labelPadding":4}}}},
      {"data":{"name":"sig"},"transform":[{"filter":"datum.p == 'F'"}],"mark":{"type":"text","fontSize":11,"dy":-1,"baseline":"bottom"},
       "encoding":{"x":{"field":"g","type":"nominal"},"y":{"field":"y","type":"quantitative"},"text":{"field":"lab"}}}
     ]}
    ],
    "resolve":{"scale":{"x":"independent"},"axis":{"x":"independent"}}
   }]
  },
  {"width":4,"height":24,
   "data":{"values":[{"d":"Cellulose"},{"d":"Oligofructose"}]},
   "encoding":{"y":{"field":"d","type":"nominal","axis":null,"scale":{"type":"point","padding":0}},"x":{"value":"width"}},
   "layer":[
    {"mark":{"type":"point","shape":"square","size":225,"filled":true,"stroke":"black","strokeWidth":1.3,"opacity":1},
     "encoding":{"fill":{"condition":{"test":"datum.d == 'Oligofructose'","value":"#d2d2d2"},"value":"white"}}},
    {"mark":{"type":"point","shape":"circle","size":25,"filled":false,"strokeWidth":1.3,"opacity":1},
     "encoding":{"stroke":{"condition":{"test":"datum.d == 'Oligofructose'","value":"#b9473e"},"value":"black"}}},
    {"mark":{"type":"text","align":"left","dx":11,"fontSize":14},"encoding":{"text":{"field":"d"}}}
   ]
  }
 ],
 "spacing":26,
 "resolve":{"scale":{"color":"independent"}}
 }
],
"spacing":22,
"resolve":{"scale":{"color":"independent"}}
}
